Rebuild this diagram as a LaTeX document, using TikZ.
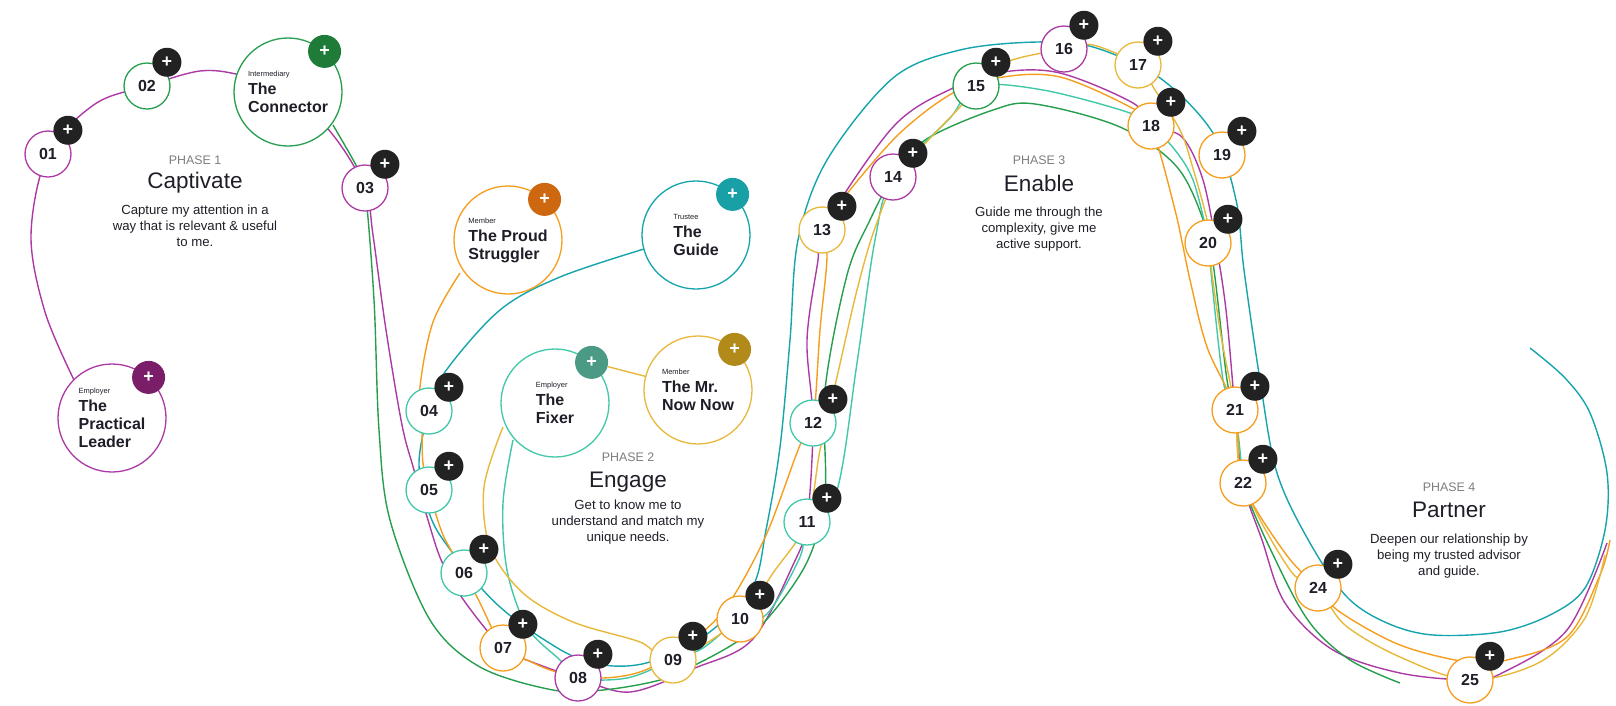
\documentclass[tikz,border=0pt]{standalone}
\usepackage{fontspec}
\setmainfont{Liberation Sans}
\usetikzlibrary{backgrounds}

\definecolor{jpurple}{RGB}{172,58,165}
\definecolor{jgreen}{RGB}{38,158,78}
\definecolor{jteal}{RGB}{22,164,172}
\definecolor{jmint}{RGB}{64,200,168}
\definecolor{jorange}{RGB}{245,158,30}
\definecolor{jgold}{RGB}{232,184,58}
\definecolor{btndark}{RGB}{34,34,34}
\definecolor{btnleader}{RGB}{122,30,106}
\definecolor{btnconnect}{RGB}{30,124,56}
\definecolor{btnproud}{RGB}{206,104,16}
\definecolor{btnguide}{RGB}{24,160,166}
\definecolor{btnfixer}{RGB}{74,154,134}
\definecolor{btnnow}{RGB}{178,138,26}
\definecolor{phasegray}{RGB}{125,125,125}
\definecolor{bodytext}{RGB}{30,30,40}

\newcommand{\personarole}[1]{{\fontsize{7.5}{9}\selectfont\mdseries #1}}

\begin{document}
\begin{tikzpicture}[x=1pt, y=-1pt,
  touch/.style={circle, draw, fill=white, line width=1.3pt, minimum size=46pt,
    inner sep=0pt, text=bodytext, font=\fontsize{16}{16}\selectfont\bfseries},
  persona/.style={circle, draw, fill=white, line width=1.3pt, minimum size=108pt,
    inner sep=0pt, align=left, text=bodytext, font=\fontsize{16}{18}\selectfont\bfseries},
  addbtn/.style={circle, fill=btndark, minimum size=29pt, inner sep=0pt,
    text=white, font=\fontsize{18}{18}\selectfont\bfseries},
  bigbtn/.style={addbtn, minimum size=33pt},
  journey/.style={line width=1.4pt, smooth, tension=0.55},
  phaselbl/.style={text=phasegray, font=\fontsize{12.4}{14}\selectfont},
  phasettl/.style={text=bodytext, font=\fontsize{22.5}{26}\selectfont},
  phasedsc/.style={text=bodytext, align=center, font=\fontsize{13.2}{16}\selectfont}]

  \useasboundingbox (0,0) rectangle (1616,705);

  % Personas
  \node[persona, draw=jpurple] (leader) at (112,418)
    {\personarole{Employer}\\The\\Practical\\Leader};
  \node[persona, draw=jgreen] (connector) at (288,92)
    {\personarole{Intermediary}\\The\\Connector};
  \node[persona, draw=jorange] (proud) at (508,240)
    {\personarole{Member}\\The Proud\\Struggler};
  \node[persona, draw=jteal] (guide) at (696,235)
    {\personarole{Trustee}\\The\\Guide};
  \node[persona, draw=jmint] (fixer) at (555,403)
    {\personarole{Employer}\\The\\Fixer};
  \node[persona, draw=jgold] (nownow) at (698,390)
    {\personarole{Member}\\The Mr.\\Now Now};

  \node[bigbtn, fill=btnleader]  (bleader)  at (leader.48)    {+};
  \node[bigbtn, fill=btnconnect] (bconnect) at (connector.48) {+};
  \node[bigbtn, fill=btnproud]   (bproud)   at (proud.48)     {+};
  \node[bigbtn, fill=btnguide]   (bguide)   at (guide.48)     {+};
  \node[bigbtn, fill=btnfixer]   (bfixer)   at (fixer.48)     {+};
  \node[bigbtn, fill=btnnow]     (bnow)     at (nownow.48)    {+};

  % Touchpoints
  \foreach \k/\px/\py/\c in {01/48/154/jpurple, 02/147/86/jgreen, 03/365/188/jpurple,
      04/429/411/jmint, 05/429/490/jmint, 06/464/573/jmint, 07/503/648/jorange,
      08/578/678/jpurple, 09/673/660/jgold, 10/740/619/jorange, 11/807/522/jmint,
      12/813/423/jmint, 13/822/230/jgold, 14/893/177/jpurple, 15/976/86/jgreen,
      16/1064/49/jpurple, 17/1138/65/jgold, 18/1151/126/jorange, 19/1222/155/jorange,
      20/1208/243/jorange, 21/1235/410/jorange, 22/1243/483/jorange,
      24/1318/588/jorange, 25/1470/680/jorange} {
    \node[touch, draw=\c] (s\k) at (\px,\py) {\k};
    \node[addbtn] (b\k) at ([shift={(50:31pt)}]s\k.center) {+};
  }

  % Phase texts
  \node[phaselbl] (ph1) at (195,160) {PHASE 1};
  \node[phasettl] (ttl1) at (195,183) {Captivate};
  \node[phasedsc] (dsc1) at (195,226) {Capture my attention in a\\way that is relevant \& useful\\to me.};

  \node[phaselbl] (ph2) at (628,457) {PHASE 2};
  \node[phasettl] (ttl2) at (628,482) {Engage};
  \node[phasedsc] (dsc2) at (628,522) {Get to know me to\\understand and match my\\unique needs.};

  \node[phaselbl] (ph3) at (1039,160) {PHASE 3};
  \node[phasettl] (ttl3) at (1039,183) {Enable};
  \node[phasedsc] (dsc3) at (1039,229) {Guide me through the\\complexity, give me\\active support.};

  \node[phaselbl] (ph4) at (1449,487) {PHASE 4};
  \node[phasettl] (ttl4) at (1449,510) {Partner};
  \node[phasedsc] (dsc4) at (1449,556) {Deepen our relationship by\\being my trusted advisor\\and guide.};

  % Journey lines, one per persona
  \begin{scope}[on background layer]
    % practical leader
    \draw[journey, jpurple] plot coordinates {(74,380) (45,312) (31,235) (s01) (95,104)
      (s02) (200,71) (240,75) (connector) (333,135) (s03) (373,235) (386,330) (402,425)
      (414,470) (428,520) (442,562) (465,602) (s07) (532,662) (s08) (630,692) (695,668)
      (752,640) (793,565) (s11) (s12) (807,340) (818,260) (s13) (893,127) (953,88)
      (1003,72) (1060,73) (1133,103) (s18) (1182,137) (1203,180) (1217,250) (1226,310)
      (1233,387) (s21) (s22) (1262,540) (1285,603) (1333,650) (1400,673) (s25)
      (1502,673) (1567,630) (1607,543)};
    % connector
    \draw[journey, jgreen] plot coordinates {(333,125) (357,167) (s03) (374,300)
      (379,430) (390,520) (430,620) (480,667) (553,690) (603,690) (660,680) (697,664)
      (735,643) (768,618) (808,560) (825,493) (825,390) (847,275) (870,220) (s14)
      (925,140) (993,110) (1035,104) (1120,127) (1177,167) (1205,225) (1214,270)
      (1227,380) (s21) (s22) (1277,563) (1310,623) (1350,660) (1400,683)};
    % guide
    \draw[journey, jteal] plot coordinates {(644,249) (560,277) (500,310) (445,372)
      (s04) (419,465) (431,518) (452,552) (483,590) (507,613) (540,637) (575,657)
      (613,666) (653,661) (707,634) (752,588) (766,530) (780,447) (790,340) (798,240)
      (827,160) (893,78) (960,50) (1037,42) (1093,47) (1160,78) (1213,133) (1236,200)
      (1244,270) (1260,380) (1277,473) (1310,543) (1347,597) (1387,623) (1433,635)
      (1500,632) (1550,615) (1585,588) (1605,530) (1607,473) (1590,413) (1565,378)
      (1530,348)};
    % fixer
    \draw[journey, jmint] plot coordinates {(513,440) (503,503) (507,570) (527,627)
      (560,660) (s08) (627,678) (s09) (703,648) (s10) (767,614) (800,557) (s11)
      (837,490) (857,363) (875,240) (s14) (950,118) (s15) (1043,90) (1127,112) (s18)
      (1175,150) (1193,180) (1207,233) (s20) (1223,380) (s21) (s22)};
    % proud struggler
    \draw[journey, jorange] plot coordinates {(460,273) (433,322) (420,387) (422,430)
      (424,470) (440,527) (452,552) (477,597) (s07) (527,660) (557,672) (603,678)
      (650,668) (705,630) (733,597) (767,533) (800,445) (s12) (820,330) (827,257)
      (s13) (850,190) (900,133) (953,93) (1003,77) (1060,77) (1130,107) (s18)
      (1175,210) (1190,280) (1207,347) (s21) (s22) (1285,553) (s24) (1340,612)
      (1400,645) (1467,662) (1507,660) (1567,637) (1600,575) (1610,540)};
    % mr now now
    \draw[journey, jgold] (bfixer) -- (nownow);
    \draw[journey, jgold] plot coordinates {(503,427) (484,487) (490,547) (523,593)
      (573,622) (640,642) (s09) (s10) (773,573) (s11) (820,450) (837,377) (857,290)
      (875,228) (900,173) (960,107) (1000,65) (s16) (1093,45) (s17) (1155,90)
      (1180,130) (1192,165) (1207,220) (s20) (1220,330) (s21) (s22) (1290,570) (s24)
      (1345,625) (1400,657) (s25) (1540,662) (1585,618) (1605,555)};
  \end{scope}

\end{tikzpicture}
\end{document}
